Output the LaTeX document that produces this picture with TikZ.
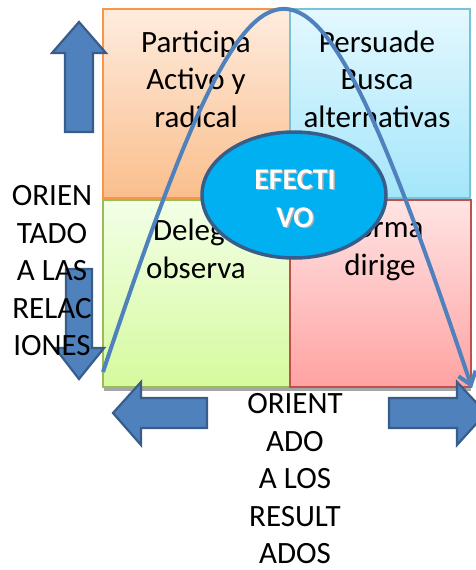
\documentclass[tikz,border=0pt]{standalone}
\usepackage{fontspec}
\setmainfont{Carlito}
\usetikzlibrary{arrows.meta}
\definecolor{arrfill}{HTML}{4F81BD}
\definecolor{arrline}{HTML}{385D8A}
\definecolor{effill}{HTML}{00B0F0}
\definecolor{orline}{HTML}{F79646}
\definecolor{ortop}{RGB}{254,236,222}
\definecolor{orbot}{RGB}{250,190,140}
\definecolor{blline}{RGB}{120,195,215}
\definecolor{bltop}{RGB}{228,248,255}
\definecolor{blbot}{RGB}{164,230,250}
\definecolor{grline}{HTML}{9BBB59}
\definecolor{grtop}{RGB}{242,255,230}
\definecolor{grbot}{RGB}{214,250,158}
\definecolor{rdline}{HTML}{C0504D}
\definecolor{rdtop}{RGB}{255,228,228}
\definecolor{rdbot}{RGB}{255,162,162}
\tikzset{
  quad/.style={line width=1.3pt},
  shadowbox/.style={fill=black!35},
  txt/.style={align=center, font=\fontsize{31}{37.5}\selectfont, inner sep=0pt},
  blockarrow/.style={fill=arrfill, draw=arrline, line width=2.2pt, line join=miter},
  curve/.style={draw=arrfill, line width=4pt},
}
\begin{document}
\begin{tikzpicture}[x=1pt,y=-1pt]
\useasboundingbox (0,0) rectangle (476,570);
\begin{scope}
\clip (0,0) rectangle (476,570);
% shadows
\fill[shadowbox] (104,12) rectangle (471,391);
% quadrants
\draw[quad, draw=orline, top color=ortop, bottom color=orbot] (103,9) rectangle (290,198);
\draw[quad, draw=blline, top color=bltop, bottom color=blbot] (290,9) rectangle (470,198);
\draw[quad, draw=grline, top color=grtop, bottom color=grbot] (103,200) rectangle (290,387);
\draw[quad, draw=rdline, top color=rdtop, bottom color=rdbot] (290,200) rectangle (471,387);
% quadrant texts
\node[txt] (q1) at (196,79) {Participa\\Activo y\\radical};
\node[txt] (q2) at (377,79) {Persuade\\Busca\\alternativas};
\node[txt] (q3) at (196,249) {Delega\\observa};
\node[txt] (q4) at (380,249) {Norma\\dirige};
% ellipse
\draw[fill=effill, draw=arrline, line width=3.5pt] (294,195) ellipse [x radius=92, y radius=63];
\node[txt, font=\fontsize{30}{38}\selectfont\bfseries, text=black!30] at (296.5,200) {EFECTI\\VO};
\node[txt, font=\fontsize{30}{38}\selectfont\bfseries, text=white] (ef) at (295,198.5) {EFECTI\\VO};
% bell curve
\draw[curve, -{Straight Barb[length=12pt,width=18pt]}] (103,372) .. controls (265,-114) and (303,-114) .. (472,388);
% block arrows
\draw[blockarrow] (65,132) -- (65,53) -- (52,53) -- (79,22) -- (106,53) -- (93,53) -- (93,132) -- cycle;
\draw[blockarrow] (66,269) -- (66,348) -- (55,348) -- (79,379) -- (104,348) -- (92,348) -- (92,269) -- cycle;
\draw[blockarrow] (207,398) -- (141,398) -- (141,382) -- (113,413) -- (141,445) -- (141,428) -- (207,428) -- cycle;
\draw[blockarrow] (389,398) -- (457,398) -- (457,382) -- (486,413) -- (457,445) -- (457,428) -- (389,428) -- cycle;
% axis labels
\node[txt] (rel) at (52,271) {ORIEN\\TADO\\A LAS\\RELAC\\IONES};
\node[txt] (res) at (295,479) {ORIENT\\ADO\\A LOS\\RESULT\\ADOS};
\end{scope}
\end{tikzpicture}
\end{document}
